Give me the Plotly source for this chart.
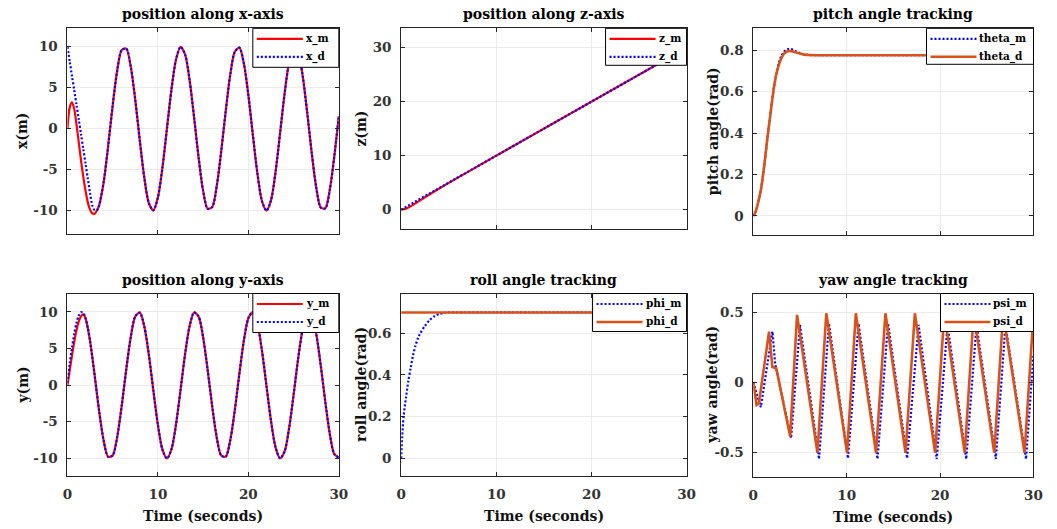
import plotly.graph_objects as go

# ---------------- data ----------------
t_pos = [0, 0.25, 0.5, 0.75, 1.0, 1.25, 1.5, 1.75, 2.0, 2.25, 2.5, 2.75, 3.0, 3.25, 3.5,
         4.0, 4.5, 5.0, 5.5, 6.0, 6.5, 7.0, 7.5, 8.0, 8.5, 9.0, 9.5, 10.0, 10.5, 11.0, 11.5,
         12.0, 12.5, 13.0, 13.5, 14.0, 14.5, 15.0, 15.5, 16.0, 16.5, 17.0, 17.5, 18.0, 18.5,
         19.0, 19.5, 20.0, 20.5, 21.0, 21.5, 22.0, 22.5, 23.0, 23.5, 24.0, 24.5, 25.0, 25.5,
         26.0, 26.5, 27.0, 27.5, 28.0, 28.5, 29.0, 29.5, 30.0]

x_m = [0, 2.6, 3.2, 2.4, 0.5, -1.7, -3.9, -5.9, -7.6, -9.0, -9.9, -10.35, -10.4, -10.0, -9.36,
       -6.54, -2.11, 2.84, 7.09, 9.60, 9.77, 7.54, 3.47, -1.46, -6.02, -9.11, -9.97, -8.39, -4.76,
       0.04, 4.81, 8.44, 9.98, 9.07, 5.96, 1.37, -3.55, -7.60, -9.78, -9.58, -7.03, -2.75, 2.17,
       6.60, 9.38, 9.89, 7.97, 4.08, -0.80, -5.48, -8.83, -10.0, -8.76, -5.33, -0.62, 4.24, 8.07,
       9.91, 9.30, 6.47, 2.02, -2.92, -7.15, -9.62, -9.74, -7.48, -3.38, 1.54]
x_d = [10.0, 8.2, 6.4, 4.7, 2.9, 1.1, -0.7, -2.5, -4.3, -6.1, -7.9, -9.4, -9.95, -9.95, -9.36,
       -6.54, -2.11, 2.84, 7.09, 9.60, 9.77, 7.54, 3.47, -1.46, -6.02, -9.11, -9.97, -8.39, -4.76,
       0.04, 4.81, 8.44, 9.98, 9.07, 5.96, 1.37, -3.55, -7.60, -9.78, -9.58, -7.03, -2.75, 2.17,
       6.60, 9.38, 9.89, 7.97, 4.08, -0.80, -5.48, -8.83, -10.0, -8.76, -5.33, -0.62, 4.24, 8.07,
       9.91, 9.30, 6.47, 2.02, -2.92, -7.15, -9.62, -9.74, -7.48, -3.38, 1.54]

y_m = [0, 2.0, 4.0, 5.9, 7.5, 8.7, 9.4, 9.65, 9.1, 7.8, 6.0, 3.8, 1.4, -1.1, -3.51,
       -7.57, -9.78, -9.59, -7.06, -2.79, 2.15, 6.57, 9.38, 9.89, 7.98, 4.12, -0.75, -5.44, -8.80,
       -10.0, -8.75, -5.37, -0.66, 4.20, 8.04, 9.91, 9.35, 6.50, 2.06, -2.88, -7.12, -9.61, -9.76,
       -7.51, -3.42, 1.50, 6.06, 9.13, 9.97, 8.37, 4.72, -0.09, -4.87, -8.46, -9.98, -9.06, -5.91,
       -1.32, 3.59, 7.63, 9.80, 9.56, 7.00, 2.71, -2.23, -6.63, -9.41, -9.88]
y_d = [0.3, 2.9, 5.1, 7.0, 8.5, 9.5, 9.95, 9.85, 9.1, 7.8, 6.0, 3.8, 1.4, -1.1, -3.51,
       -7.57, -9.78, -9.59, -7.06, -2.79, 2.15, 6.57, 9.38, 9.89, 7.98, 4.12, -0.75, -5.44, -8.80,
       -10.0, -8.75, -5.37, -0.66, 4.20, 8.04, 9.91, 9.35, 6.50, 2.06, -2.88, -7.12, -9.61, -9.76,
       -7.51, -3.42, 1.50, 6.06, 9.13, 9.97, 8.37, 4.72, -0.09, -4.87, -8.46, -9.98, -9.06, -5.91,
       -1.32, 3.59, 7.63, 9.80, 9.56, 7.00, 2.71, -2.23, -6.63, -9.41, -9.88]

t_z = [0, 0.5, 1.0, 1.5, 2.0, 3.0, 4.0, 5.0, 10.0, 15.0, 20.0, 25.0, 30.0]
z_m = [0, 0.15, 0.6, 1.2, 1.8, 2.85, 3.9, 4.95, 10.0, 15.0, 20.0, 25.0, 30.0]
z_d = [0, 0.5, 1.0, 1.5, 2.0, 3.0, 4.0, 5.0, 10.0, 15.0, 20.0, 25.0, 30.0]

t_ang = [0, 0.25, 0.5, 0.75, 1.0, 1.25, 1.5, 1.75, 2.0, 2.25, 2.5, 2.75, 3.0, 3.25, 3.5,
         3.75, 4.0, 4.5, 5.0, 5.5, 6.0, 7.0, 8.0, 10.0, 15.0, 20.0, 25.0, 30.0]
theta_m = [0, 0.02, 0.06, 0.11, 0.18, 0.27, 0.37, 0.46, 0.55, 0.63, 0.69, 0.74, 0.77, 0.79, 0.80,
           0.805, 0.805, 0.795, 0.785, 0.778, 0.776, 0.775, 0.775, 0.775, 0.775, 0.775, 0.775, 0.775]
theta_d = [0, 0.02, 0.06, 0.11, 0.18, 0.27, 0.37, 0.46, 0.55, 0.63, 0.69, 0.73, 0.76, 0.78, 0.79,
           0.795, 0.795, 0.79, 0.783, 0.778, 0.776, 0.775, 0.775, 0.775, 0.775, 0.775, 0.775, 0.775]

t_roll = [0, 0.1, 0.25, 0.5, 0.75, 1.0, 1.25, 1.5, 1.75, 2.0, 2.5, 3.0, 3.5, 4.0, 4.5, 5.0,
          10.0, 20.0, 30.0]
phi_m = [0, 0.1, 0.2, 0.29, 0.37, 0.435, 0.495, 0.54, 0.575, 0.6, 0.635, 0.664, 0.682, 0.693,
         0.698, 0.7, 0.7, 0.7, 0.7]
phi_d = [0.7, 0.7, 0.7, 0.7, 0.7, 0.7, 0.7, 0.7, 0.7, 0.7, 0.7, 0.7, 0.7, 0.7, 0.7, 0.7,
         0.7, 0.7, 0.7]

t_psi_d = [0, 0.36, 0.6, 1.69, 2.05, 2.47, 3.95, 4.69, 6.87, 7.82, 10.04, 10.98, 13.14, 14.15,
           16.3, 17.3, 19.47, 20.45, 22.64, 23.6, 25.8, 26.75, 29.04, 30.0]
psi_d = [0, -0.16, -0.15, 0.362, 0.11, 0.10, -0.385, 0.482, -0.5, 0.493, -0.5, 0.493, -0.5, 0.493,
         -0.5, 0.493, -0.5, 0.493, -0.5, 0.493, -0.5, 0.493, -0.5, 0.49]
t_psi_m = [0, 0.81, 2.05, 2.35, 4.05, 5.0, 7.04, 8.1, 10.14, 11.27, 13.3, 14.43, 16.47, 17.7,
           19.64, 20.8, 22.8, 23.9, 25.97, 27.0, 29.2, 30.0]
psi_m = [0, -0.175, 0.363, 0.13, -0.396, 0.41, -0.545, 0.42, -0.54, 0.42, -0.545, 0.42, -0.54, 0.41,
         -0.545, 0.41, -0.545, 0.41, -0.545, 0.41, -0.545, 0.2]

titles = ["position along x-axis", "position along z-axis", "pitch angle tracking",
          "position along y-axis", "roll angle tracking", "yaw angle tracking"]
ylabels = ["x(m)", "z(m)", "pitch angle(rad)", "y(m)", "roll angle(rad)", "yaw angle(rad)"]
x_ticks = [0, 10, 20, 30]
x_ticktext = ["0", "10", "20", "30"]

# ---------------- styling ----------------
FONT = "DejaVu Serif"
RED = "#ff0000"
BLUE = "#0000ff"
ORANGE = "#D95319"
AXC = "#262626"
GRID = "#ebebeb"

W, H = 1057, 529
# subplot boxes in pixels: (left, right, top, bottom)
boxes = [
    (63.3, 338.3, 28.3, 234.3),
    (401.5, 690.7, 28.3, 228.5),
    (758.3, 1042.3, 28.3, 235.0),
    (63.3, 338.3, 293.5, 476.0),
    (401.5, 690.7, 293.5, 476.0),
    (758.3, 1042.3, 293.5, 477.0),
]
yranges = [[-12.9, 12.25], [-3.5, 33.6], [-0.092, 0.905],
           [-12.4, 12.5], [-0.085, 0.791], [-0.673, 0.634]]
yticks = [[-10, -5, 0, 5, 10], [0, 10, 20, 30], [0, 0.2, 0.4, 0.6, 0.8],
          [-10, -5, 0, 5, 10], [0, 0.2, 0.4, 0.6], [-0.5, 0, 0.5]]
yticktext = [["-10", "-5", "0", "5", "10"], ["0", "10", "20", "30"],
             ["0", "0.2", "0.4", "0.6", "0.8"], ["-10", "-5", "0", "5", "10"],
             ["0", "0.2", "0.4", "0.6"], ["-0.5", "0", "0.5"]]
ylabel_x = [18, 361, 717, 18, 361, 717]
legend_w = [86, 81, 107, 86, 94, 93]
legend_h = [39, 37, 36, 39, 38, 38]

fig = go.Figure()


def add(idx, t, v, name, color, width, dash="solid", shape="spline"):
    ax = "" if idx == 1 else str(idx)
    fig.add_trace(go.Scatter(
        x=t, y=v, name=name, mode="lines", xaxis="x" + ax, yaxis="y" + ax,
        line=dict(color=color, width=width, dash=dash, shape=shape, smoothing=0.8 if shape == "spline" else None),
        showlegend=False, hoverinfo="skip"))


DOT = "2px,2px"
add(1, t_pos, x_m, "x_m", RED, 2.2)
add(1, t_pos, x_d, "x_d", BLUE, 2.2, DOT)
add(2, t_z, z_m, "z_m", RED, 2.2, shape="linear")
add(2, t_z, z_d, "z_d", BLUE, 2.2, DOT, shape="linear")
add(3, t_ang, theta_m, "theta_m", BLUE, 2.2, DOT)
add(3, t_ang, theta_d, "theta_d", ORANGE, 2.6)
add(4, t_pos, y_m, "y_m", RED, 2.2)
add(4, t_pos, y_d, "y_d", BLUE, 2.2, DOT)
add(5, t_roll, phi_m, "phi_m", BLUE, 2.2, DOT)
add(5, t_roll, phi_d, "phi_d", ORANGE, 2.6, shape="linear")
add(6, t_psi_m, psi_m, "psi_m", BLUE, 2.2, DOT, shape="linear")
add(6, t_psi_d, psi_d, "psi_d", ORANGE, 2.6, shape="linear")

legends = [
    [("x_m", RED, 2.2, "solid"), ("x_d", BLUE, 2.2, DOT)],
    [("z_m", RED, 2.2, "solid"), ("z_d", BLUE, 2.2, DOT)],
    [("theta_m", BLUE, 2.2, DOT), ("theta_d", ORANGE, 2.6, "solid")],
    [("y_m", RED, 2.2, "solid"), ("y_d", BLUE, 2.2, DOT)],
    [("phi_m", BLUE, 2.2, DOT), ("phi_d", ORANGE, 2.6, "solid")],
    [("psi_m", BLUE, 2.2, DOT), ("psi_d", ORANGE, 2.6, "solid")],
]

layout = dict(
    width=W, height=H, margin=dict(l=0, r=0, t=0, b=0),
    paper_bgcolor="white", plot_bgcolor="white", showlegend=False,
    font=dict(family=FONT, size=13.5, color=AXC),
)
shapes = []
annotations = []

for i in range(6):
    n = i + 1
    ax = "" if n == 1 else str(n)
    l, r, tp, bt = boxes[i]
    xd = [l / W, r / W]
    yd = [1 - bt / H, 1 - tp / H]
    bottom_row = i >= 3
    layout["xaxis" + ax] = dict(
        domain=xd, anchor="y" + ax, range=[0, 30], tickvals=x_ticks, ticktext=x_ticktext,
        showticklabels=bottom_row, ticks="inside", ticklen=4, tickwidth=1, tickcolor=AXC,
        showline=True, linecolor=AXC, linewidth=1, mirror="ticks",
        showgrid=True, gridcolor=GRID, gridwidth=1, zeroline=False,
        tickfont=dict(family=FONT, size=13.5, color="#333333", weight="bold"),
        ticklabelstandoff=6,
    )
    layout["yaxis" + ax] = dict(
        domain=yd, anchor="x" + ax, range=yranges[i], tickvals=yticks[i], ticktext=yticktext[i],
        ticks="inside", ticklen=4, tickwidth=1, tickcolor=AXC,
        showline=True, linecolor=AXC, linewidth=1, mirror="ticks",
        showgrid=True, gridcolor=GRID, gridwidth=1, zeroline=False,
        tickfont=dict(family=FONT, size=13.5, color="#333333", weight="bold"),
        ticklabelstandoff=6,
    )
    xref = "x" + ax + " domain"
    yref = "y" + ax + " domain"
    # title
    annotations.append(dict(
        text="<b>" + titles[i] + "</b>", xref=xref, yref=yref, x=0.5, y=1,
        xanchor="center", yanchor="bottom", yshift=4, showarrow=False,
        font=dict(family=FONT, size=14, color="#000000")))
    # y label
    annotations.append(dict(
        text="<b>" + ylabels[i] + "</b>", xref="paper", yref=yref, x=ylabel_x[i] / W, y=0.5,
        xanchor="center", yanchor="middle", textangle=-90, showarrow=False,
        font=dict(family=FONT, size=14, color="#111111")))
    # x label
    if bottom_row:
        annotations.append(dict(
            text="<b>Time (seconds)</b>", xref=xref, yref=yref, x=0.5, y=0,
            xanchor="center", yanchor="top", yshift=-30, showarrow=False,
            font=dict(family=FONT, size=14, color="#111111")))
    # legend box (manual, MATLAB style)
    lw, lh = legend_w[i], legend_h[i]
    shapes.append(dict(
        type="rect", xref=xref, yref=yref, xsizemode="pixel", ysizemode="pixel",
        xanchor=1, yanchor=1, x0=-lw, x1=0, y0=-lh, y1=0,
        fillcolor="white", line=dict(color="#000000", width=1), layer="above"))
    for k, (lab, col, wid, dsh) in enumerate(legends[i]):
        yoff = -10.5 if k == 0 else -28.5
        shapes.append(dict(
            type="line", xref=xref, yref=yref, xsizemode="pixel", ysizemode="pixel",
            xanchor=1, yanchor=1, x0=-lw + 4, x1=-lw + 50, y0=yoff, y1=yoff,
            line=dict(color=col, width=wid, dash=dsh), layer="above"))
        annotations.append(dict(
            text="<b>" + lab + "</b>", xref=xref, yref=yref, x=1, y=1,
            xanchor="left", yanchor="middle", xshift=-lw + 51, yshift=yoff, showarrow=False,
            font=dict(family=FONT, size=10.5, color="#000000")))

layout["shapes"] = shapes
layout["annotations"] = annotations
fig.update_layout(**layout)
fig.write_html("out.html")
